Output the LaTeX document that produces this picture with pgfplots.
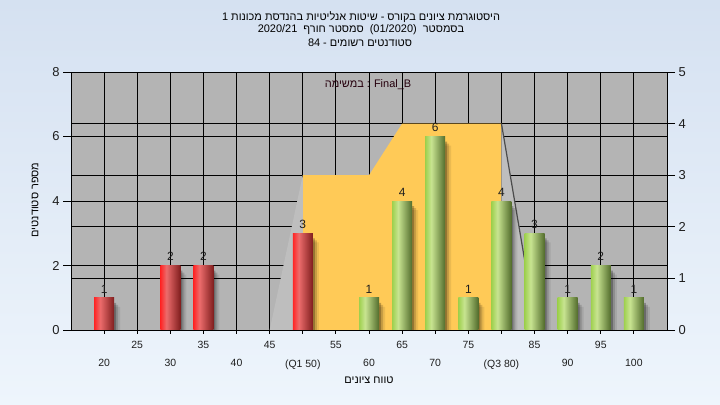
\documentclass[border=0pt]{standalone}
\usepackage{pgfplots}
\pgfplotsset{compat=1.18}
\usepackage{fontspec}
\setmainfont{Liberation Sans}
\newfontfamily\hebfont[Script=Hebrew]{Liberation Sans}
\TeXXeTstate=1

\definecolor{bgtop}{RGB}{213,225,241}
\definecolor{bgbot}{RGB}{238,245,252}
\definecolor{plotgray}{RGB}{180,180,180}
\definecolor{wedgegray}{RGB}{190,190,190}
\definecolor{quartile}{RGB}{255,202,87}
\definecolor{redL}{RGB}{255,36,36}
\definecolor{redH}{RGB}{236,108,108}
\definecolor{redD}{RGB}{128,30,30}
\definecolor{grnL}{RGB}{158,208,78}
\definecolor{grnH}{RGB}{200,228,145}
\definecolor{grnD}{RGB}{82,108,44}
\definecolor{labelink}{RGB}{30,30,30}

% cylinder-like horizontal shading for the bars
\pgfdeclarehorizontalshading{redbar}{100bp}{color(0bp)=(redL); color(25bp)=(redL); color(40bp)=(redH); color(75bp)=(redD); color(100bp)=(redD)}
\pgfdeclarehorizontalshading{greenbar}{100bp}{color(0bp)=(grnL); color(25bp)=(grnL); color(40bp)=(grnH); color(75bp)=(grnD); color(100bp)=(grnD)}

\pgfplotsset{
  /pgf/number format/assume math mode=true,
  histframe/.style={
    scale only axis, width=596bp, height=258bp,
    at={(71bp,75bp)}, anchor=south west,
    xmin=15, xmax=105,
    axis line style={-, black, line width=0.8bp},
    tick style={black, line width=0.8bp},
    tick align=outside,
  },
  redcyl/.style={ybar, bar width=20bp, bar shift=0pt, draw=none, shading=redbar},
  greencyl/.style={ybar, bar width=20bp, bar shift=0pt, draw=none, shading=greenbar},
}

\begin{document}
\begin{tikzpicture}
\shade[top color=bgtop, bottom color=bgbot] (0,0) rectangle (720bp,405bp);
\path[use as bounding box] (0,0) rectangle (720bp,405bp);

% right scale: background, grid and the quartile band
\begin{axis}[histframe,
  ymin=0, ymax=5,
  axis y line*=right, axis x line*=bottom,
  axis background/.style={fill=plotgray},
  xtick={20,25,...,100}, xticklabels={},
  x tick style={draw=none},
  xmajorgrids, ymajorgrids,
  ytick={0,...,5},
  extra y ticks={1.25,2.5,3.75}, extra y tick labels={},
  extra y tick style={grid=major, major tick length=0pt},
  grid style={black, line width=0.8bp},
  major tick length=8bp,
  yticklabel style={font=\fontsize{13}{15}\selectfont, text=labelink},
]
\addplot[fill=quartile, draw=none] coordinates {(50,3) (60,3) (65,4) (80,4)} \closedcycle;
\addplot[fill=wedgegray, draw=none] coordinates {(45,0) (50,3)} \closedcycle;
\addplot[fill=wedgegray, draw=none] coordinates {(80,4) (83.5,1.36)} \closedcycle;
\addplot[draw=black!70, line width=1.2bp] coordinates {(80,4) (83.5,1.36)};
\end{axis}

% left scale: the histogram bars
\begin{axis}[histframe,
  ymin=0, ymax=8,
  axis y line*=left, axis x line*=bottom,
  xtick=\empty,
  ytick={0,2,...,8},
  major tick length=8bp,
  yticklabel style={font=\fontsize{13}{15}\selectfont, text=labelink},
]
% soft drop shadow
\addplot[ybar, bar width=20bp, bar shift=2bp, draw=none, fill=black, fill opacity=0.25, yshift=-5bp]
  coordinates {(20,1) (30,2) (35,2) (50,3) (60,1) (65,4) (70,6) (75,1) (80,4) (85,3) (90,1) (95,2) (100,1)};
\addplot[ybar, bar width=20bp, bar shift=4bp, draw=none, fill=black, fill opacity=0.15, yshift=-7bp]
  coordinates {(20,1) (30,2) (35,2) (50,3) (60,1) (65,4) (70,6) (75,1) (80,4) (85,3) (90,1) (95,2) (100,1)};
\addplot[ybar, bar width=20bp, bar shift=6bp, draw=none, fill=black, fill opacity=0.08, yshift=-9bp]
  coordinates {(20,1) (30,2) (35,2) (50,3) (60,1) (65,4) (70,6) (75,1) (80,4) (85,3) (90,1) (95,2) (100,1)};
% bars below Q1 and at Q1 (one plot per bar so each gets its own shading)
\addplot[redcyl] coordinates {(20,1)};
\addplot[redcyl] coordinates {(30,2)};
\addplot[redcyl] coordinates {(35,2)};
\addplot[redcyl] coordinates {(50,3)};
% bars above Q1
\addplot[greencyl] coordinates {(60,1)};
\addplot[greencyl] coordinates {(65,4)};
\addplot[greencyl] coordinates {(70,6)};
\addplot[greencyl] coordinates {(75,1)};
\addplot[greencyl] coordinates {(80,4)};
\addplot[greencyl] coordinates {(85,3)};
\addplot[greencyl] coordinates {(90,1)};
\addplot[greencyl] coordinates {(95,2)};
\addplot[greencyl] coordinates {(100,1)};
% counts above the bars
\addplot[draw=none, nodes near coords,
  every node near coord/.append style={font=\fontsize{12}{14}\selectfont, text=labelink, anchor=south, yshift=1bp}]
  coordinates {(20,1) (30,2) (35,2) (50,3) (60,1) (65,4) (70,6) (75,1) (80,4) (85,3) (90,1) (95,2) (100,1)};
\end{axis}

% grade axis with staggered labels
\begin{axis}[histframe,
  ymin=0, ymax=8,
  axis y line=none, axis x line*=bottom,
  ytick=\empty,
  major tick length=4bp,
  xtick={25,35,...,95},
  extra x ticks={20,30,...,100},
  extra x tick labels={20,30,40,(Q1 50),60,70,(Q3 80),90,100},
  extra x tick style={tick label style={yshift=-18bp}},
  xticklabel style={font=\fontsize{10.5}{12}\selectfont, text=labelink, yshift=-4bp},
]
\addplot[draw=none] coordinates {(20,0) (100,0)};
\end{axis}

% titles and axis names
\begin{scope}[font=\fontsize{11}{13}\selectfont]
\node at (361bp,388bp) {\hebfont\beginR היסטוגרמת ציונים בקורס - שיטות אנליטיות בהנדסת מכונות \beginL 1\endL\endR};
\node at (361bp,375bp) {\hebfont\beginR בסמסטר \ \beginL(01/2020)\endL\ \ סמסטר חורף \ \beginL 2020/21\endL\endR};
\node at (360bp,362bp) {\hebfont\beginR סטודנטים רשומים - \beginL 84\endL\endR};
\node[text=black!80!purple] at (368bp,320bp) {\hebfont\beginR במשימה\endR\ : Final\_B};
\node[rotate=90] at (35bp,205bp) {\hebfont\beginR מספר סטודנטים\endR};
\node at (369bp,25bp) {\hebfont\beginR טווח ציונים\endR};
\end{scope}
\end{tikzpicture}
\end{document}
